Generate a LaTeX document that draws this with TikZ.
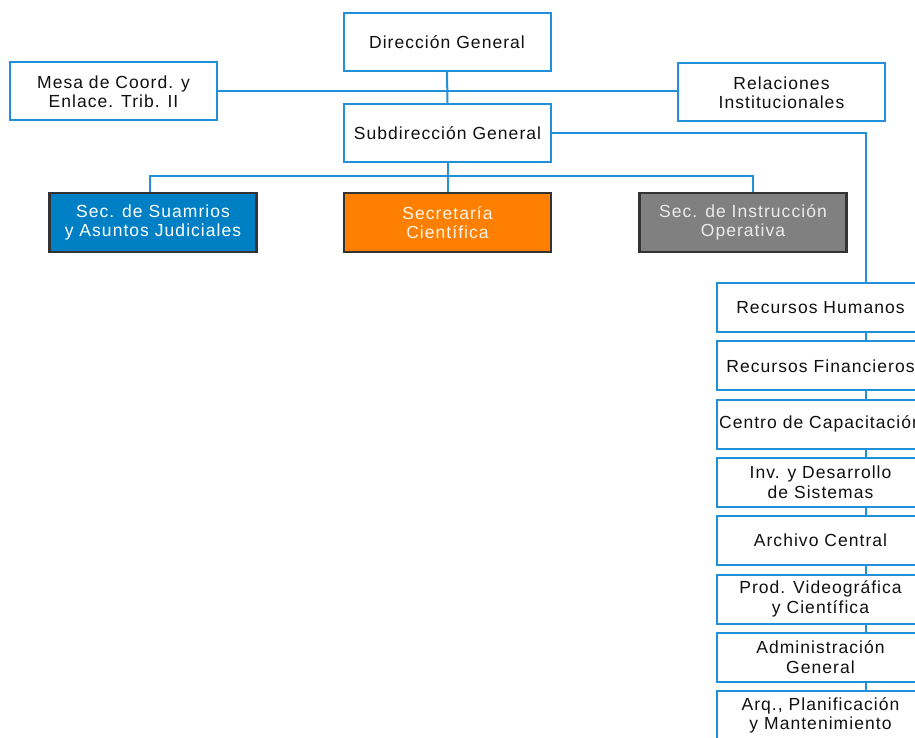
\documentclass[tikz,border=0pt]{standalone}
\usepackage{fontspec}
\setmainfont{Liberation Sans}[LetterSpace=6]
\definecolor{lineblue}{HTML}{2090D8}
\definecolor{boxblue}{HTML}{0080C4}
\definecolor{boxorange}{HTML}{FF8000}
\definecolor{boxgray}{HTML}{808080}
\definecolor{txt}{HTML}{101010}
\begin{document}
\begin{tikzpicture}[x=1pt,y=-1pt,
  box/.style={draw=lineblue, line width=2pt, fill=white, rectangle,
    minimum width=207pt, minimum height=58pt, inner sep=0pt, align=center,
    text=txt, font=\fontsize{17.5}{19.5}\selectfont},
  colbox/.style={box, minimum height=49pt},
  secbox/.style={box, draw=black!80, line width=2.2pt, minimum height=59pt},
  conn/.style={draw=lineblue, line width=2pt}]
\useasboundingbox (0,0) rectangle (915,738);
\clip (0,0) rectangle (915,738);
\fill[white] (0,0) rectangle (915,738);

\node[box] (dir) at (447,42) {Dirección General};
\node[box] (mesa) at (113.5,91.5) {Mesa de Coord. y\\Enlace. Trib. II};
\node[box] (rel) at (781.5,92.5) {Relaciones\\Institucionales};
\node[box] (sub) at (447.5,133) {Subdirección General};

\node[secbox, fill=boxblue, text=white] (suam) at (153,222.5) {Sec. de Suamrios\\y Asuntos Judiciales};
\node[secbox, fill=boxorange, text=orange!8] (secc) at (447.5,222.5) {Secretaría\\Científica};
\node[secbox, fill=boxgray, text=black!8] (instr) at (743,222.5) {Sec. de Instrucción\\Operativa};

\node[colbox] (rh) at (820.5,307.5) {Recursos Humanos};
\node[colbox] (rf) at (820.5,365.8) {Recursos Financieros};
\node[colbox] (cc) at (820.5,424.1) {Centro de Capacitación};
\node[colbox] (inv) at (820.5,482.4) {Inv. y Desarrollo\\de Sistemas};
\node[colbox] (arch) at (820.5,540.7) {Archivo Central};
\node[colbox] (prod) at (820.5,599) {Prod. Videográfica\\y Científica};
\node[colbox] (adm) at (820.5,657.3) {Administración\\General};
\node[colbox] (arq) at (820.5,715.6) {Arq., Planificación\\y Mantenimiento};

\coordinate (bus) at (447.5,176);

\draw[conn] (dir.south) -- (sub.north);
\draw[conn] (mesa.east) -- (mesa.east -| rel.west);
\draw[conn] (sub.south) -- (secc.north);
\draw[conn] ([xshift=-3pt]suam.north) |- (bus) -| ([xshift=10pt]instr.north);
\draw[conn] (sub.east) -| ([xshift=45.5pt]rh.north);
\draw[conn] ([xshift=45.5pt]rh.south) -- ([xshift=45.5pt]rf.north);
\draw[conn] ([xshift=45.5pt]rf.south) -- ([xshift=45.5pt]cc.north);
\draw[conn] ([xshift=45.5pt]cc.south) -- ([xshift=45.5pt]inv.north);
\draw[conn] ([xshift=45.5pt]inv.south) -- ([xshift=45.5pt]arch.north);
\draw[conn] ([xshift=45.5pt]arch.south) -- ([xshift=45.5pt]prod.north);
\draw[conn] ([xshift=45.5pt]prod.south) -- ([xshift=45.5pt]adm.north);
\draw[conn] ([xshift=45.5pt]adm.south) -- ([xshift=45.5pt]arq.north);
\end{tikzpicture}
\end{document}
